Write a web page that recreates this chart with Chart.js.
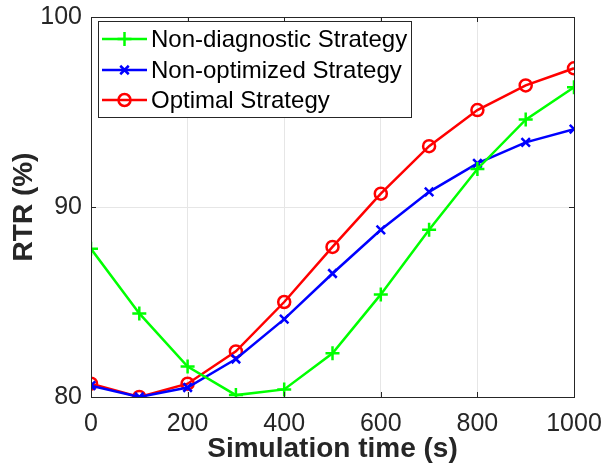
<!DOCTYPE html>
<html>
<head>
<meta charset="utf-8">
<script src="https://cdn.jsdelivr.net/npm/chart.js@4.4.1/dist/chart.umd.min.js"></script>
<style>
  html, body { margin: 0; padding: 0; background: #fff; }
  #wrap { width: 603px; height: 472px; }
</style>
</head>
<body>
<div id="wrap"><canvas id="chartRTR" width="603" height="472"></canvas></div>
<script>
const simTime = [0, 100, 200, 300, 400, 500, 600, 700, 800, 900, 1000]
const nonDiagnostic = [87.8, 84.4, 81.6, 80.1, 80.4, 82.3, 85.4, 88.8, 92.0, 94.6, 96.3]
const nonOptimized = [80.6, 80.0, 80.5, 82.0, 84.1, 86.5, 88.8, 90.8, 92.3, 93.4, 94.1]
const optimal = [80.7, 80.0, 80.7, 82.4, 85.0, 87.9, 90.7, 93.2, 95.1, 96.4, 97.3]
const seriesNames = ['Non-diagnostic Strategy', 'Non-optimized Strategy', 'Optimal Strategy']
const xTicks = [0, 200, 400, 600, 800, 1000]
const yTicks = [80, 90, 100]

const axisColor = '#262626';
const fontFam = '"Liberation Sans", Arial, Helvetica, sans-serif';

function toPoints(vals) {
    return vals.map((v, i) => ({ x: simTime[i], y: v }));
}

// matlab-like box, inward ticks and legend inside the plot
const boxPlugin = {
    id: 'boxPlugin',
    afterDraw(chart) {
        const ctx = chart.ctx;
        const a = chart.chartArea;
        const xs = chart.scales.x, ys = chart.scales.y;
        ctx.save();
        ctx.strokeStyle = axisColor;
        ctx.lineWidth = 1;
        ctx.strokeRect(a.left + 0.5, a.top + 0.5, a.right - a.left, a.bottom - a.top);
        ctx.beginPath();
        xTicks.forEach(t => {
            const px = Math.round(xs.getPixelForValue(t)) + 0.5;
            ctx.moveTo(px, a.bottom); ctx.lineTo(px, a.bottom - 5);
            ctx.moveTo(px, a.top); ctx.lineTo(px, a.top + 5);
        });
        yTicks.forEach(t => {
            const py = Math.round(ys.getPixelForValue(t)) + 0.5;
            ctx.moveTo(a.left, py); ctx.lineTo(a.left + 5, py);
            ctx.moveTo(a.right, py); ctx.lineTo(a.right - 5, py);
        });
        ctx.stroke();

        // legend
        const lx = 98, ly = 21, lw = 313, lh = 96;
        ctx.fillStyle = '#fff';
        ctx.fillRect(lx, ly, lw, lh);
        ctx.strokeRect(lx + 0.5, ly + 0.5, lw, lh);
        const rows = [39, 70, 100];
        chart.data.datasets.forEach((ds, i) => {
            const y = rows[i];
            ctx.strokeStyle = ds.borderColor;
            ctx.lineWidth = 2.5;
            ctx.beginPath();
            ctx.moveTo(102, y); ctx.lineTo(147, y);
            ctx.stroke();
            ctx.fillStyle = 'rgba(255,255,255,0)';
            Chart.helpers.drawPoint(ctx, {
                pointStyle: ds.pointStyle,
                radius: ds.pointRadius,
                borderWidth: ds.pointBorderWidth,
                rotation: 0
            }, 124.5, y);
            ctx.fillStyle = '#000';
            ctx.font = '24px ' + fontFam;
            ctx.textBaseline = 'middle';
            ctx.textAlign = 'left';
            ctx.fillText(ds.label, 151, y + 1);
        });
        ctx.restore();
    }
};

const ctxRTR = document.getElementById('chartRTR').getContext('2d');
const chartRTR = new Chart(ctxRTR, {
    type: 'line',
    data: {
        datasets: [
            {
                label: seriesNames[0], data: toPoints(nonDiagnostic),
                borderColor: '#00ff00', backgroundColor: '#00ff00',
                pointStyle: 'cross', pointRadius: 7, pointBorderWidth: 2.5
            },
            {
                label: seriesNames[1], data: toPoints(nonOptimized),
                borderColor: '#0000ff', backgroundColor: '#0000ff',
                pointStyle: 'crossRot', pointRadius: 6, pointBorderWidth: 2.5
            },
            {
                label: seriesNames[2], data: toPoints(optimal),
                borderColor: '#ff0000', backgroundColor: 'rgba(255,255,255,0)',
                pointStyle: 'circle', pointRadius: 6, pointBorderWidth: 2.5
            }
        ]
    },
    options: {
        responsive: false,
        animation: false,
        layout: { padding: { left: 0, right: 29, top: 17, bottom: 0 } },
        elements: {
            line: { borderWidth: 2.5, tension: 0 },
            point: { hoverRadius: 6 }
        },
        plugins: { legend: { display: false }, tooltip: { enabled: false } },
        scales: {
            x: {
                type: 'linear', min: 0, max: 1000,
                afterBuildTicks: s => { s.ticks = xTicks.map(v => ({ value: v })); },
                afterFit: s => { s.height = 75; s.paddingRight = 0; s.paddingLeft = 0; },
                grid: { color: '#e6e6e6', drawTicks: false },
                border: { display: false },
                ticks: {
                    color: axisColor, padding: 12, maxRotation: 0,
                    font: { size: 25, family: fontFam },
                    callback: v => String(v)
                },
                title: {
                    display: true, text: 'Simulation time (s)', color: axisColor,
                    font: { size: 28, weight: 'bold', family: fontFam },
                    padding: { top: 0, bottom: 6 }
                }
            },
            y: {
                type: 'linear', min: 80, max: 100,
                afterBuildTicks: s => { s.ticks = yTicks.map(v => ({ value: v })); },
                afterFit: s => { s.width = 91; s.paddingTop = 0; s.paddingBottom = 0; },
                grid: { color: '#e6e6e6', drawTicks: false },
                border: { display: false },
                ticks: {
                    color: axisColor, padding: 9,
                    font: { size: 25, family: fontFam },
                    callback: v => String(v)
                },
                title: {
                    display: true, text: 'RTR (%)', color: axisColor,
                    font: { size: 28, weight: 'bold', family: fontFam },
                    padding: { top: 7, bottom: 0 }
                }
            }
        }
    },
    plugins: [boxPlugin]
});
</script>
</body>
</html>
